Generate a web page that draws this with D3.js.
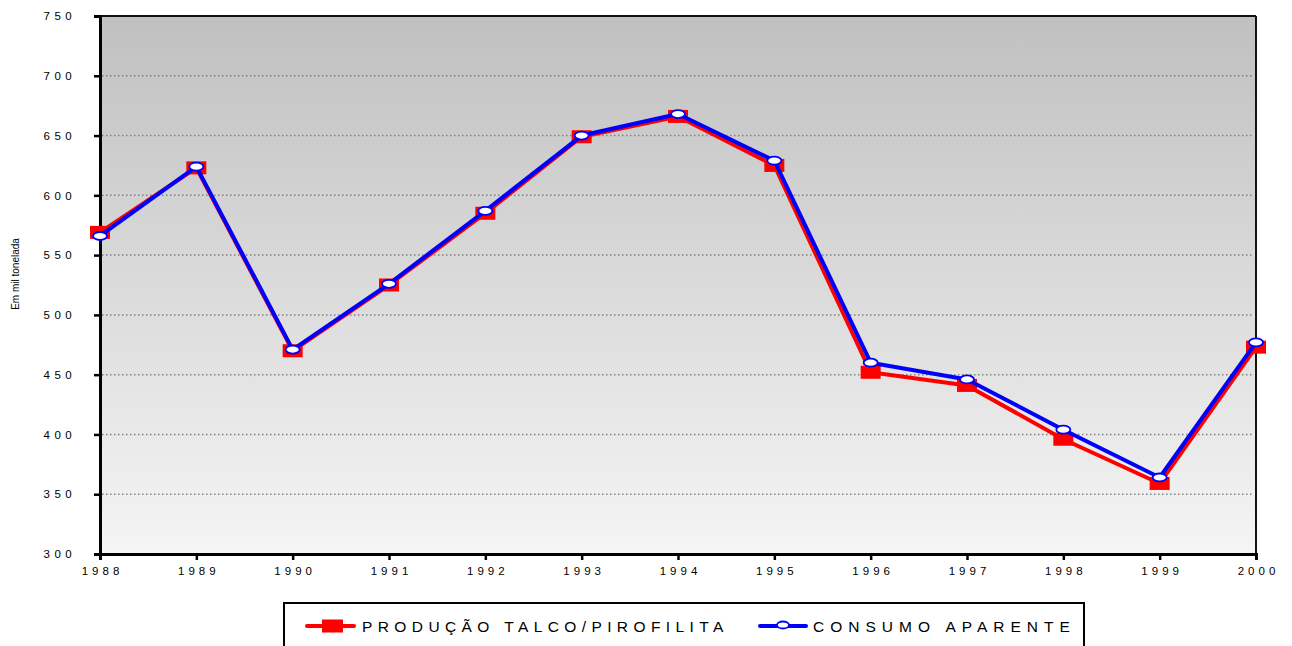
<!DOCTYPE html>
<html>
<head>
<meta charset="utf-8">
<script src="https://cdn.jsdelivr.net/npm/d3@7"></script>
<style>
  html, body { margin: 0; padding: 0; background: #fff; }
  svg { display: block; font-family: Arial, "Liberation Sans", sans-serif; }
</style>
</head>
<body>
<svg id="chart" width="1292" height="646"></svg>
<script>
// Talc / pyrophyllite: production vs apparent consumption (thousand tonnes)
const years = [1988, 1989, 1990, 1991, 1992, 1993, 1994, 1995, 1996, 1997, 1998, 1999, 2000];
const producao = [569, 623, 470, 525, 585, 649, 666, 625, 452, 441, 396, 359, 473];
const consumo  = [566, 624, 471, 526, 587, 650, 668, 629, 460, 446, 404, 364, 477];
const yTicks = [300, 350, 400, 450, 500, 550, 600, 650, 700, 750];
const seriesNames = ["PRODUÇÃO TALCO/PIROFILITA", "CONSUMO APARENTE"];
const yTitle = "Em mil tonelada";

const svg = d3.select("#chart");
const plotL = 100, plotR = 1256, plotT = 16, plotB = 554;

const x = d3.scalePoint().domain(years).range([plotL, plotR]);
const y = d3.scaleLinear().domain([300, 750]).range([plotB, plotT]);

// plot background gradient
const defs = svg.append("defs");
const grad = defs.append("linearGradient").attr("id", "bg").attr("x1", 0).attr("y1", 0).attr("x2", 0).attr("y2", 1);
grad.append("stop").attr("offset", "0%").attr("stop-color", "#c0c0c0");
grad.append("stop").attr("offset", "100%").attr("stop-color", "#f5f5f5");

svg.append("rect").attr("x", plotL).attr("y", plotT)
  .attr("width", plotR - plotL).attr("height", plotB - plotT)
  .attr("fill", "url(#bg)");

// dotted gridlines
svg.append("g").selectAll("line")
  .data(yTicks.filter(d => d !== 300 && d !== 750))
  .join("line")
  .attr("x1", plotL + 2).attr("x2", plotR - 2)
  .attr("y1", d => y(d)).attr("y2", d => y(d))
  .attr("stroke", "#808080").attr("stroke-width", 1.5)
  .attr("stroke-dasharray", "1.5,2.5");

// frame: top and right
svg.append("line").attr("x1", plotL).attr("x2", plotR).attr("y1", plotT).attr("y2", plotT)
  .attr("stroke", "#111").attr("stroke-width", 2);
svg.append("line").attr("x1", plotR).attr("x2", plotR).attr("y1", plotT).attr("y2", plotB)
  .attr("stroke", "#111").attr("stroke-width", 2);

// y axis
const yAxis = svg.append("g").attr("transform", `translate(${plotL},0)`)
  .call(d3.axisLeft(y).tickValues(yTicks).tickSize(6).tickPadding(18).tickFormat(d3.format("d")));
yAxis.select(".domain").attr("stroke", "#000").attr("stroke-width", 3);
yAxis.selectAll(".tick line").attr("stroke", "#000").attr("stroke-width", 2.5);
yAxis.selectAll(".tick text").attr("font-size", 11.5).attr("fill", "#000")
  .attr("letter-spacing", "4.4px").attr("font-family", "Arial, 'Liberation Sans', sans-serif");

// x axis
const xAxis = svg.append("g").attr("transform", `translate(0,${plotB})`)
  .call(d3.axisBottom(x).tickSize(6).tickPadding(7).tickFormat(d3.format("d")));
xAxis.select(".domain").attr("stroke", "#000").attr("stroke-width", 3);
xAxis.selectAll(".tick line").attr("stroke", "#000").attr("stroke-width", 2.5);
xAxis.selectAll(".tick text").attr("font-size", 11.5).attr("fill", "#000")
  .attr("letter-spacing", "4px").attr("dx", "2px")
  .attr("font-family", "Arial, 'Liberation Sans', sans-serif");

// y axis title
svg.append("text")
  .attr("transform", `translate(19,${(plotT + plotB) / 2 - 11}) rotate(-90)`)
  .attr("text-anchor", "middle").attr("font-size", 10).attr("fill", "#000")
  .text(yTitle);

const line = d3.line().x((d, i) => x(years[i])).y(d => y(d));

// production series
svg.append("path").datum(producao).attr("d", line)
  .attr("fill", "none").attr("stroke", "#ff0000").attr("stroke-width", 4)
  .attr("stroke-linejoin", "round");
svg.append("g").selectAll("rect").data(producao).join("rect")
  .attr("x", (d, i) => x(years[i]) - 10).attr("y", d => y(d) - 6.5)
  .attr("width", 20).attr("height", 13).attr("fill", "#ff0000");

// consumption series
svg.append("path").datum(consumo).attr("d", line)
  .attr("fill", "none").attr("stroke", "#0000ff").attr("stroke-width", 4)
  .attr("stroke-linejoin", "round");
svg.append("g").selectAll("ellipse").data(consumo).join("ellipse")
  .attr("cx", (d, i) => x(years[i])).attr("cy", d => y(d))
  .attr("rx", 7).attr("ry", 4).attr("fill", "#fff")
  .attr("stroke", "#0000ff").attr("stroke-width", 1.8);

// legend
const lg = svg.append("g");
lg.append("rect").attr("x", 284).attr("y", 603).attr("width", 800).attr("height", 50)
  .attr("fill", "#fff").attr("stroke", "#000").attr("stroke-width", 2);

const ly = 626;
lg.append("line").attr("x1", 307).attr("x2", 354).attr("y1", ly).attr("y2", ly)
  .attr("stroke", "#ff0000").attr("stroke-width", 4).attr("stroke-linecap", "round");
lg.append("rect").attr("x", 322).attr("y", ly - 6.5).attr("width", 21).attr("height", 13).attr("fill", "#ff0000");
lg.append("text").attr("x", 362).attr("y", ly + 6).attr("font-size", 15.5)
  .attr("letter-spacing", "5.4px").attr("fill", "#000").text(seriesNames[0]);

lg.append("line").attr("x1", 760).attr("x2", 806).attr("y1", ly).attr("y2", ly)
  .attr("stroke", "#0000ff").attr("stroke-width", 4).attr("stroke-linecap", "round");
lg.append("ellipse").attr("cx", 783).attr("cy", ly - 1).attr("rx", 6).attr("ry", 3.5)
  .attr("fill", "#fff").attr("stroke", "#0000ff").attr("stroke-width", 1.8);
lg.append("text").attr("x", 813).attr("y", ly + 6).attr("font-size", 15.5)
  .attr("letter-spacing", "6px").attr("fill", "#000").text(seriesNames[1]);
</script>
</body>
</html>
